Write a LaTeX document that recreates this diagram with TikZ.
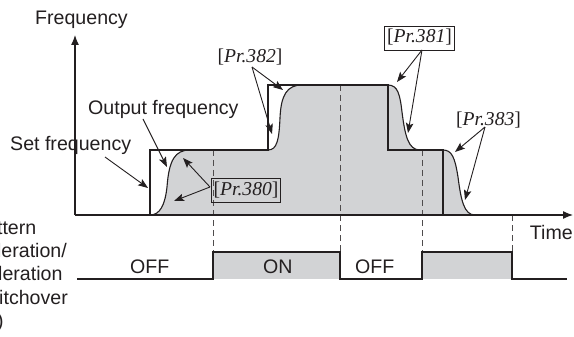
\documentclass[tikz,border=0pt]{standalone}
\usepackage{fontspec}
\setmainfont{Liberation Sans}
\newfontfamily\prfont{Liberation Serif}
\usetikzlibrary{arrows.meta}
\definecolor{fillg}{RGB}{210,211,213}
\definecolor{ink}{RGB}{35,31,32}
\begin{document}
\begin{tikzpicture}[x=1pt,y=-1pt,
  lbl/.style={font=\fontsize{19.6}{23.3}\selectfont, text=ink, inner sep=0, anchor=base west},
  prlbl/.style={font=\fontsize{19.6}{23}\prfont, text=ink, inner xsep=2.5pt, inner ysep=3pt, text height=14pt, text depth=4pt},
  prbox/.style={prlbl, draw=ink, line width=0.9pt},
  ann/.style={draw=ink, line width=0.9pt, -{Stealth[length=10pt,width=7.5pt,inset=2pt]}},
  axisline/.style={draw=ink, line width=1.2pt, -{Latex[length=10pt,width=8pt]}},
  solid line/.style={draw=ink, line width=1.1pt},
  dsh/.style={draw=ink!80, line width=0.9pt, dash pattern=on 6pt off 4pt}]
\useasboundingbox (0,0) rectangle (574,337);

% gray area under output frequency
\fill[fillg] (150,215) .. controls (160,215) and (165,205) .. (167,187)
  .. controls (169,160) and (175,150) .. (190,150) -- (268,150)
  .. controls (277,150) and (279,140) .. (280,118)
  .. controls (281,95) and (287,85) .. (302,85) -- (388,85)
  .. controls (398,85) and (400,95) .. (402,112)
  .. controls (405,135) and (408,150) .. (420,150) -- (443,150)
  .. controls (452,150) and (455,158) .. (458,177)
  .. controls (461,200) and (464,215) .. (475,215) -- cycle;

% switchover signal gray
\fill[fillg] (213,252) rectangle (340,279);
\fill[fillg] (422,252) rectangle (512,279);

% dashed timing lines
\draw[dsh] (213,150) -- (213,252);
\draw[dsh] (340,85) -- (340,252);
\draw[dsh] (422,150) -- (422,252);
\draw[dsh] (512,215) -- (512,252);

% output frequency curve
\draw[solid line] (150,215) .. controls (160,215) and (165,205) .. (167,187)
  .. controls (169,160) and (175,150) .. (190,150) -- (268,150)
  .. controls (277,150) and (279,140) .. (280,118)
  .. controls (281,95) and (287,85) .. (302,85) -- (388,85)
  .. controls (398,85) and (400,95) .. (402,112)
  .. controls (405,135) and (408,150) .. (420,150) -- (443,150)
  .. controls (452,150) and (455,158) .. (458,177)
  .. controls (461,200) and (464,215) .. (475,215);

% set frequency
\draw[solid line] (150,215) -- (150,150) -- (268,150) -- (268,85) -- (388,85)
  -- (388,150) -- (443,150) -- (443,215);

% switchover signal
\draw[solid line] (77,279) -- (213,279) -- (213,252) -- (340,252) -- (340,279)
  -- (422,279) -- (422,252) -- (512,252) -- (512,279) -- (567,279);

% axes
\coordinate (origin) at (75,215);
\coordinate (ytip) at (75,35);
\coordinate (xtip) at (573,215);
\draw[axisline] (origin) -- (ytip);
\draw[axisline] (origin) -- (xtip);

% labels
\node[lbl] (freq) at (35,25) {Frequency};
\node[lbl] (outf) at (88,114) {Output frequency};
\node[lbl] (setf) at (10,151) {Set frequency};
\node[lbl, anchor=base east] (time) at (573,240) {Time};
\node[lbl] (off1) at (130,273) {OFF};
\node[lbl] (on1) at (263,273) {ON};
\node[lbl] (off2) at (355,273) {OFF};
\node[lbl, anchor=north west, align=left] (sig) at (-44.5,220.5)
  {S-pattern\\acceleration/\\deceleration\\C switchover\\(X20)};

\node[prbox] (p380) at (246,190) {[\textit{Pr.380}]};
\node[prbox] (p381) at (419.5,38) {[\textit{Pr.381}]};
\node[prlbl] (p382) at (250,58) {[\textit{Pr.382}]};
\node[prlbl] (p383) at (488.5,120) {[\textit{Pr.383}]};

% annotation arrows
\coordinate (oOut) at (143,119);
\coordinate (tOut) at (167,167);
\coordinate (oSet) at (105,157);
\coordinate (tSet) at (148,188);
\coordinate (o380) at (210,187);
\coordinate (a380) at (183,158);
\coordinate (b380) at (174,201);
\coordinate (o382) at (252,67);
\coordinate (a382) at (283,90);
\coordinate (b382) at (272,134);
\coordinate (o381) at (422,50);
\coordinate (a381) at (397,82);
\coordinate (b381) at (408,133);
\coordinate (o383) at (485,127);
\coordinate (a383) at (455,152);
\coordinate (b383) at (465,200);

\draw[ann] (oOut) -- (tOut);
\draw[ann] (oSet) -- (tSet);
\draw[ann] (o380) -- (a380);
\draw[ann] (o380) -- (b380);
\draw[ann] (o382) -- (a382);
\draw[ann] (o382) -- (b382);
\draw[ann] (o381) -- (a381);
\draw[ann] (o381) -- (b381);
\draw[ann] (o383) -- (a383);
\draw[ann] (o383) -- (b383);
\end{tikzpicture}
\end{document}
